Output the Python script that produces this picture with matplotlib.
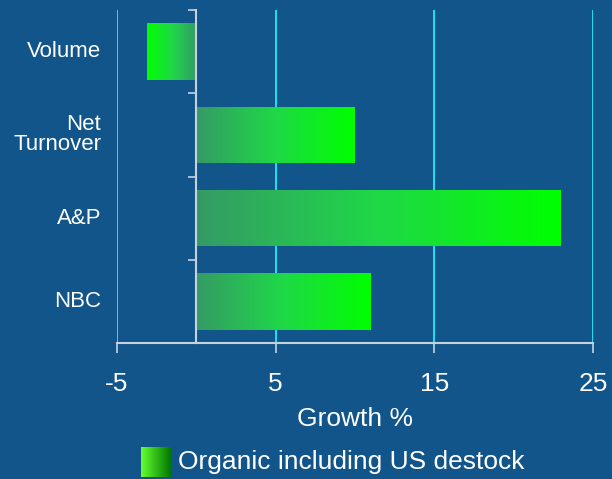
import numpy as np
import matplotlib.pyplot as plt
from matplotlib.colors import LinearSegmentedColormap

plt.rcParams["font.family"] = ["Liberation Sans", "DejaVu Sans"]

# growth figures by measure
categories = ["Volume", "Net\nTurnover", "A&P", "NBC"]
growth = [-3.1, 10.0, 23.0, 11.0]
xticks = [-5, 5, 15, 25]
legend_label = "Organic including US destock"

bg = "#11558b"
grid_col = "#1ee2f2"
axis_col = "#c8d2dc"

bar_cmap = LinearSegmentedColormap.from_list("bar", ["#359a66", "#1fd847", "#00ff00"])
key_cmap = LinearSegmentedColormap.from_list("key", ["#66ff33", "#007700"])

fig = plt.figure(figsize=(6.12, 4.79), dpi=100, facecolor=bg)
ax = fig.add_axes([117 / 612, 136 / 479, 476 / 612, 333 / 479])
ax.set_facecolor(bg)

# cyan grid lines
for t in xticks:
    ax.axvline(t, color=grid_col, lw=1.4, zorder=1)

# bars, each filled with a gradient running from zero out to its tip
h = 0.68
grad = np.linspace(0, 1, 256).reshape(1, -1)
for i, v in enumerate(growth):
    bar = ax.barh(i, v, height=h, color="none", edgecolor="none", zorder=2)[0]
    g = grad if v >= 0 else grad[:, ::-1]
    lo, hi = min(0, v), max(0, v)
    im = ax.imshow(g, cmap=bar_cmap, aspect="auto", extent=(lo, hi, i + h / 2, i - h / 2),
                   zorder=2, interpolation="bilinear")
    im.set_clip_path(bar)
ax.set_xlim(-5, 25)
ax.set_ylim(len(categories) - 0.5, -0.5)

# zero line acts as the category axis
for s in ["top", "right"]:
    ax.spines[s].set_visible(False)
ax.spines["left"].set_position(("data", 0))
ax.spines["left"].set_color(axis_col)
ax.spines["left"].set_linewidth(1.5)
ax.spines["left"].set_zorder(3)
ax.spines["bottom"].set_color(axis_col)
ax.spines["bottom"].set_linewidth(1.5)

ax.set_yticks(np.arange(len(categories) + 1) - 0.5)
ax.tick_params(axis="y", direction="out", length=6, width=1.2, colors=axis_col, labelleft=False)

ax.set_xticks(xticks)
ax.set_xticklabels([str(t) for t in xticks])
ax.tick_params(axis="x", direction="out", length=7, width=1.2, color=axis_col,
               labelcolor="white", labelsize=19, pad=14)
ax.set_xlabel("Growth %", color="white", fontsize=19, labelpad=8)

for i, c in enumerate(categories):
    ax.text(-0.033, i, c, transform=ax.get_yaxis_transform(), ha="right", va="center",
            color="white", fontsize=16, linespacing=0.95)

# legend key with its own gradient swatch
kax = fig.add_axes([141 / 612, 2 / 479, 30 / 612, 30 / 479])
kax.imshow(grad, cmap=key_cmap, aspect="auto", interpolation="bilinear")
kax.axis("off")
fig.text(178 / 612, 17 / 479, legend_label, color="white", fontsize=19, va="center", ha="left")

fig.savefig("out.png", dpi=100, facecolor=bg)
